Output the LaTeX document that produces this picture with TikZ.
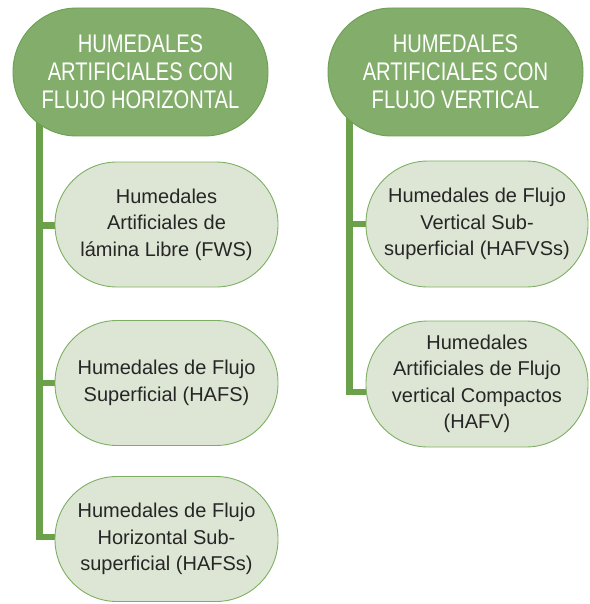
\documentclass[tikz,border=0pt]{standalone}
\usepackage{fontspec}
\usetikzlibrary{backgrounds}
\setmainfont{Liberation Sans}
\newfontfamily\headfont{Liberation Sans}[FakeStretch=0.79]
\definecolor{headfill}{HTML}{82AD6A}
\definecolor{headdraw}{HTML}{6E9F55}
\definecolor{childfill}{HTML}{DDE6D4}
\definecolor{childdraw}{HTML}{7DAF62}
\definecolor{linkcol}{HTML}{6AA14A}
\definecolor{txtcol}{HTML}{262626}
\begin{document}
\begin{tikzpicture}[x=1pt,y=-1pt,
  headbox/.style={draw=headdraw,fill=headfill,line width=0.9pt,rounded corners=63.5pt,
    minimum width=255pt,minimum height=128pt,inner sep=0pt,align=center,text=white,
    font=\headfont\fontsize{25.5}{28}\selectfont},
  childbox/.style={draw=childdraw,fill=childfill,line width=0.9pt,rounded corners=62pt,
    minimum width=223pt,minimum height=125pt,inner sep=0pt,align=center,text=txtcol,
    font=\fontsize{20}{26.5}\selectfont},
  conn/.style={draw=linkcol,line width=6.5pt}]
\useasboundingbox (0,0) rectangle (589,604);
\node[headbox] (h1) at (140.5,72) {HUMEDALES\\ARTIFICIALES CON\\FLUJO HORIZONTAL};
\node[headbox] (h2) at (455.5,72) {HUMEDALES\\ARTIFICIALES CON\\FLUJO VERTICAL};
\node[childbox] (c1) at (166.5,224.5) {Humedales\\Artificiales de\\lámina Libre (FWS)};
\node[childbox] (c2) at (166.5,383) {Humedales de Flujo\\Superficial (HAFS)};
\node[childbox] (c3) at (166.5,539) {Humedales de Flujo\\Horizontal Sub-\\superficial (HAFSs)};
\node[childbox,minimum width=222pt,minimum height=126pt] (d1) at (477,224) {Humedales de Flujo\\Vertical Sub-\\superficial (HAFVSs)};
\node[childbox,minimum width=222pt,minimum height=126pt] (d2) at (477,384) {Humedales\\Artificiales de Flujo\\vertical Compactos\\(HAFV)};
\coordinate (l1) at ([xshift=27pt,yshift=20pt]h1.south west);
\coordinate (r1) at ([xshift=22pt,yshift=20pt]h2.south west);
\begin{scope}[on background layer]
\draw[conn] (l1) |- ([yshift=-1pt]c1.west);
\draw[conn] (l1) |- (c2.west);
\draw[conn] (l1) |- ([yshift=2pt]c3.west);
\draw[conn] (r1) |- (d1.west);
\draw[conn] (r1) |- ([yshift=-8pt]d2.west);
\end{scope}
\end{tikzpicture}
\end{document}
